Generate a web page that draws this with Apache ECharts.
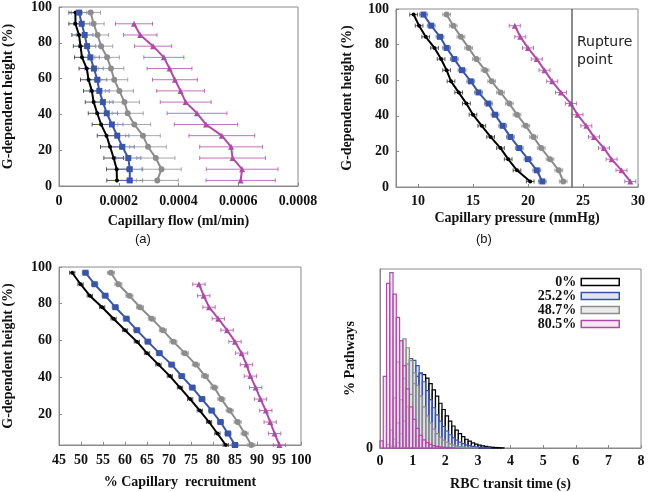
<!DOCTYPE html>
<html>
<head>
<meta charset="utf-8">
<script src="https://cdn.jsdelivr.net/npm/echarts@6/dist/echarts.min.js"></script>
<style>
  html, body { margin: 0; padding: 0; background: #fff; }
  #main { width: 649px; height: 492px; }
</style>
</head>
<body>
<div id="main"></div>
<script>
let myChart = echarts.init(document.getElementById('main'))

// G-dependent height of each bin (%), top to bottom
const heights = [96.875, 90.625, 84.375, 78.125, 71.875, 65.625, 59.375, 53.125,
    46.875, 40.625, 34.375, 28.125, 21.875, 15.625, 9.375, 3.125]
// the 80.5% case has no top bin
const heightsTop = [90.625, 84.375, 78.125, 71.875, 65.625, 59.375, 53.125,
    46.875, 40.625, 34.375, 28.125, 21.875, 15.625, 9.375, 3.125]

// (a) capillary flow (ml/min)
const flow0 = [0.000055, 0.000055, 0.000067, 0.000072, 0.000077, 0.000093, 0.000099, 0.00011,
    0.000116, 0.000128, 0.000141, 0.000159, 0.000171, 0.000183, 0.000193, 0.000194]
const flow25 = [0.000067, 0.000076, 0.000086, 0.000094, 0.000105, 0.000117, 0.000128, 0.000135,
    0.000147, 0.00016, 0.000177, 0.000195, 0.000212, 0.000232, 0.000237, 0.000237]
const flow48 = [0.000106, 0.000116, 0.000129, 0.000141, 0.000161, 0.000174, 0.000185, 0.000202,
    0.000219, 0.00023, 0.000252, 0.000281, 0.000298, 0.000324, 0.000343, 0.000329]
const flow80 = [0.000251, 0.000272, 0.000315, 0.000351, 0.00037, 0.000388, 0.000407,
    0.000424, 0.000462, 0.000492, 0.000545, 0.000576, 0.000581, 0.000613, 0.000608]
const flowErr0 = [0.000022, 0.000022, 0.000024, 0.000024, 0.000025, 0.000026, 0.000027, 0.000028,
    0.000028, 0.00003, 0.00003, 0.000031, 0.000032, 0.000033, 0.000034, 0.000034]
const flowErr25 = [0.000026, 0.000027, 0.000028, 0.000029, 0.00003, 0.000031, 0.000032, 0.000033,
    0.000034, 0.000036, 0.000037, 0.000039, 0.00004, 0.000042, 0.000043, 0.000043]
const flowErr48 = [0.000033, 0.000035, 0.000037, 0.000039, 0.000041, 0.000043, 0.000045, 0.000047,
    0.00005, 0.000052, 0.000055, 0.000058, 0.000061, 0.000064, 0.000066, 0.00007]
const flowErr80 = [0.000062, 0.000056, 0.000062, 0.000067, 0.000075, 0.000075, 0.00008,
    0.000085, 0.0001, 0.000106, 0.00011, 0.000105, 0.00011, 0.00012, 0.000116]

// (b) capillary pressure (mmHg)
const pres0 = [9.6, 10.1, 10.7, 11.5, 12.1, 12.6, 13.0, 13.7, 14.4, 15.0, 15.8, 16.6, 17.5, 18.2, 19.0, 20.2]
const pres25 = [10.5, 11.2, 12.0, 12.6, 13.3, 14.0, 14.8, 15.5, 16.4, 17.0, 17.7, 18.4, 19.2, 20.0, 20.8, 21.3]
const pres48 = [12.6, 13.2, 13.9, 14.6, 15.3, 16.1, 16.7, 17.5, 18.3, 19.0, 19.8, 20.5, 21.2, 22.0, 22.8, 23.2]
const pres80 = [18.8, 19.3, 20.0, 20.8, 21.5, 22.2, 23.0, 23.9, 24.5, 25.3, 26.0, 26.9, 27.6, 28.5, 29.3]
const presErr = [0.35, 0.35, 0.35, 0.5]
const rupturePressure = 24

// (c) % capillary recruitment
const recr0 = [48.0, 49.9, 52.0, 54.8, 57.4, 60.0, 62.7, 65.0, 67.6, 70.2, 72.5, 74.8, 77.0, 79.1, 81.0, 82.9]
const recr25 = [51.0, 53.1, 55.5, 57.8, 60.3, 62.7, 65.2, 67.8, 70.6, 72.9, 75.3, 77.5, 79.7, 81.7, 83.4, 85.0]
const recr48 = [56.8, 58.5, 61.0, 63.4, 66.1, 68.6, 71.0, 73.6, 76.1, 78.2, 80.3, 81.9, 83.8, 85.6, 87.2, 88.7]
const recr80 = [76.8, 77.9, 79.1, 81.2, 83.2, 85.0, 86.5, 87.6, 88.5, 89.7, 90.8, 92.0, 93.0, 94.0, 95.1]
const recrErr = [0.6, 0.7, 0.8, 1.4]

// (d) RBC transit time histogram, bins of 0.1 s starting at these edges
const binStart = [0, 0.1, 0.2, 0.3, 0.4, 0.5, 0.6, 0.7, 0.8, 0.9, 1.0, 1.1, 1.2, 1.3, 1.4, 1.5,
    1.6, 1.7, 1.8, 1.9, 2.0, 2.1, 2.2, 2.3, 2.4, 2.5, 2.6, 2.7, 2.8, 2.9, 3.0, 3.1, 3.2, 3.3,
    3.4, 3.5, 3.6, 3.7, 3.8, 3.9]
const binWidth = 0.1
const hist0 = [0, 0, 0, 0, 1, 3, 8, 15, 23, 30, 36, 40, 41.5, 41, 39, 36, 32.5, 29, 25, 21.5,
    18, 15, 12.3, 10, 8, 6.3, 4.9, 3.8, 2.9, 2.2, 1.6, 1.2, 0.9, 0.6, 0.4, 0.3, 0.2, 0.1, 0, 0]
const hist25 = [0, 0, 0, 1, 5, 14, 27, 39, 47, 50, 49, 46, 42, 37, 32, 27, 22.5, 18.5, 15, 12,
    9.5, 7.4, 5.7, 4.4, 3.3, 2.5, 1.8, 1.3, 0.9, 0.6, 0.4, 0.3, 0.2, 0.1, 0, 0, 0, 0, 0, 0]
const hist48 = [0, 0, 2, 10, 28, 48, 60, 61, 56, 49, 42, 35, 29, 23, 18, 14, 10.5, 8, 6, 4.4,
    3.2, 2.3, 1.6, 1.1, 0.8, 0.5, 0.35, 0.25, 0.15, 0.1, 0, 0, 0, 0, 0, 0, 0, 0, 0, 0]
const hist80 = [4, 40, 92, 98, 86, 73, 60, 46, 33, 23, 16, 11, 7, 4.5, 3, 2, 1.3, 0.9, 0.6, 0.4,
    0.3, 0.2, 0.1, 0, 0, 0, 0, 0, 0, 0, 0, 0, 0, 0, 0, 0, 0, 0, 0, 0]

const caseNames = ['0%', '25.2%', '48.7%', '80.5%']
const lineColors = ['#000000', '#3b55a6', '#8c8c8c', '#ad4ca5']
const barColors = ['rgba(60,60,60,0.85)', 'rgba(80,105,180,0.8)', 'rgba(150,150,150,0.85)', 'rgba(180,90,170,0.85)']
const histFill = ['rgba(255,255,255,0.25)', 'rgba(185,198,228,0.45)', 'rgba(212,212,212,0.45)', 'rgba(238,195,232,0.45)']
const symbols = ['circle', 'rect', 'circle', 'triangle']
const symbolSizes = [4, 6, 6, 6]

const serif = 'Liberation Serif'
const frame = '#8a8a8a'
const fs = 14

function errBarRender(color) {
    return function (params, api) {
        let x = api.value(0), y = api.value(1), e = api.value(2)
        let p1 = api.coord([x - e, y])
        let p2 = api.coord([x + e, y])
        let style = {stroke: color, lineWidth: 1}
        return {
            type: 'group',
            children: [
                {type: 'line', shape: {x1: p1[0], y1: p1[1], x2: p2[0], y2: p2[1]}, style: style},
                {type: 'line', shape: {x1: p1[0], y1: p1[1] - 2, x2: p1[0], y2: p1[1] + 2}, style: style},
                {type: 'line', shape: {x1: p2[0], y1: p2[1] - 2, x2: p2[0], y2: p2[1] + 2}, style: style}
            ]
        }
    }
}

function histRender(stroke, fill) {
    return function (params, api) {
        let x0 = api.value(0), x1 = api.value(1), v = api.value(2)
        let a = api.coord([x0, 0])
        let b = api.coord([x1, v])
        return {
            type: 'rect',
            shape: {x: a[0], y: b[1], width: b[0] - a[0], height: a[1] - b[1]},
            style: {fill: fill, stroke: stroke, lineWidth: 1.2}
        }
    }
}

function labelStyle(margin, extra) {
    return Object.assign({color: '#111', fontFamily: serif, fontWeight: 'bold', fontSize: fs, margin: margin}, extra)
}

function valueAxis(gridIndex, min, max, interval, extra) {
    return Object.assign({
        type: 'value',
        gridIndex: gridIndex,
        min: min,
        max: max,
        interval: interval,
        splitLine: {show: false},
        axisLine: {lineStyle: {color: frame}},
        axisTick: {inside: true, length: 3, lineStyle: {color: frame}},
        axisLabel: labelStyle(8),
        nameLocation: 'middle',
        nameTextStyle: {color: '#111', fontFamily: serif, fontWeight: 'bold', fontSize: fs}
    }, extra)
}

// build the line + error bar series for one panel
function panelSeries(axisIndex, sets, errs) {
    let out = []
    sets.forEach((xs, k) => {
        let hs = xs.length === heights.length ? heights : heightsTop
        let errArr = Array.isArray(errs[k]) ? errs[k] : xs.map(() => errs[k])
        out.push({
            type: 'custom',
            name: 'err' + axisIndex + '_' + k,
            xAxisIndex: axisIndex,
            yAxisIndex: axisIndex,
            renderItem: errBarRender(barColors[k]),
            encode: {x: 0, y: 1},
            data: xs.map((x, i) => [x, hs[i], errArr[i]]),
            z: 2,
            silent: true
        })
        out.push({
            type: 'line',
            name: 'line' + axisIndex + '_' + k,
            xAxisIndex: axisIndex,
            yAxisIndex: axisIndex,
            data: xs.map((x, i) => [x, hs[i]]),
            symbol: symbols[k],
            symbolSize: symbolSizes[k],
            showSymbol: true,
            lineStyle: {color: lineColors[k], width: 2},
            itemStyle: {color: lineColors[k]},
            z: 3,
            silent: true
        })
    })
    return out
}

let series = []
series = series.concat(panelSeries(0, [flow0, flow25, flow48, flow80], [flowErr0, flowErr25, flowErr48, flowErr80]))
series = series.concat(panelSeries(1, [pres0, pres25, pres48, pres80], presErr))
series = series.concat(panelSeries(2, [recr0, recr25, recr48, recr80], recrErr))

// rupture point marker on panel (b)
series.push({
    type: 'line',
    name: 'rupture',
    xAxisIndex: 1,
    yAxisIndex: 1,
    data: [],
    markLine: {
        silent: true,
        symbol: 'none',
        label: {show: false},
        lineStyle: {color: '#666', width: 1.5, type: 'solid'},
        data: [{xAxis: rupturePressure}]
    }
})

const hists = [hist0, hist25, hist48, hist80]
hists.forEach((h, k) => {
    series.push({
        type: 'custom',
        name: caseNames[k],
        xAxisIndex: 3,
        yAxisIndex: 3,
        renderItem: histRender(lineColors[k], histFill[k]),
        encode: {x: [0, 1], y: 2},
        itemStyle: {color: histFill[k], borderColor: lineColors[k], borderWidth: 1.5},
        data: binStart.map((s, i) => [s, s + binWidth, h[i]]).filter(d => d[2] > 0),
        z: 2 + k
    })
})

let option = {
    backgroundColor: '#fff',
    animation: false,
    grid: [
        {left: 57, top: 6, width: 241, height: 180, show: true, borderColor: frame, borderWidth: 1},
        {left: 396, top: 9, width: 242, height: 178, show: true, borderColor: frame, borderWidth: 1},
        {left: 58, top: 267, width: 243, height: 178, show: true, borderColor: frame, borderWidth: 1},
        {left: 380, top: 269, width: 261, height: 180, show: true, borderColor: frame, borderWidth: 1}
    ],
    xAxis: [
        valueAxis(0, 0, 0.0008, 0.0002, {name: 'Capillary flow (ml/min)', nameGap: 28,
            axisLabel: labelStyle(8)}),
        valueAxis(1, 8, 30, null, {name: 'Capillary pressure (mmHg)', nameGap: 24, splitNumber: 5,
            axisLabel: labelStyle(7, {showMinLabel: false, formatter: v => (v % 5 === 0 ? v : '')})}),
        valueAxis(2, 45, 100, 5, {name: '% Capillary  recruitment', nameGap: 30,
            axisLabel: labelStyle(8)}),
        valueAxis(3, 0, 8, 1, {name: 'RBC transit time (s)', nameGap: 29,
            axisLabel: labelStyle(6)})
    ],
    yAxis: [
        valueAxis(0, 0, 100, 20, {name: 'G-dependent height (%)', nameGap: 44, axisLabel: labelStyle(7)}),
        valueAxis(1, 0, 100, 20, {name: 'G-dependent height (%)', nameGap: 42, axisLabel: labelStyle(7)}),
        valueAxis(2, 3.125, 100, null, {name: 'G-dependent height (%)', nameGap: 44, splitNumber: 5,
            axisLabel: labelStyle(7, {showMinLabel: false, formatter: v => (v % 20 === 0 ? v : '')})}),
        valueAxis(3, 0, 100, 100, {name: '% Pathways', nameGap: 23, axisTick: {show: false},
            axisLabel: labelStyle(7, {formatter: v => (v === 0 ? '0' : '')})})
    ],
    legend: {
        data: caseNames.map((n, k) => ({
            name: n,
            icon: 'rect',
            itemStyle: {color: histFill[k], borderColor: lineColors[k], borderWidth: 1.5}
        })),
        orient: 'vertical',
        right: 24,
        top: 270,
        align: 'right',
        itemWidth: 38,
        itemHeight: 7,
        itemGap: 0,
        textStyle: {color: '#111', fontFamily: serif, fontWeight: 'bold', fontSize: fs},
        selectedMode: false
    },
    graphic: [
        {type: 'text', left: 135, top: 233, style: {text: '(a)', fontFamily: 'Liberation Sans', fontSize: 13, fill: '#111'}},
        {type: 'text', left: 476, top: 233, style: {text: '(b)', fontFamily: 'Liberation Sans', fontSize: 13, fill: '#111'}},
        {type: 'text', left: 577, top: 33, style: {text: 'Rupture\npoint', fontFamily: 'DejaVu Sans', fontSize: 14, lineHeight: 18, fill: '#222'}}
    ],
    series: series
}

myChart.setOption(option)
</script>
</body>
</html>
